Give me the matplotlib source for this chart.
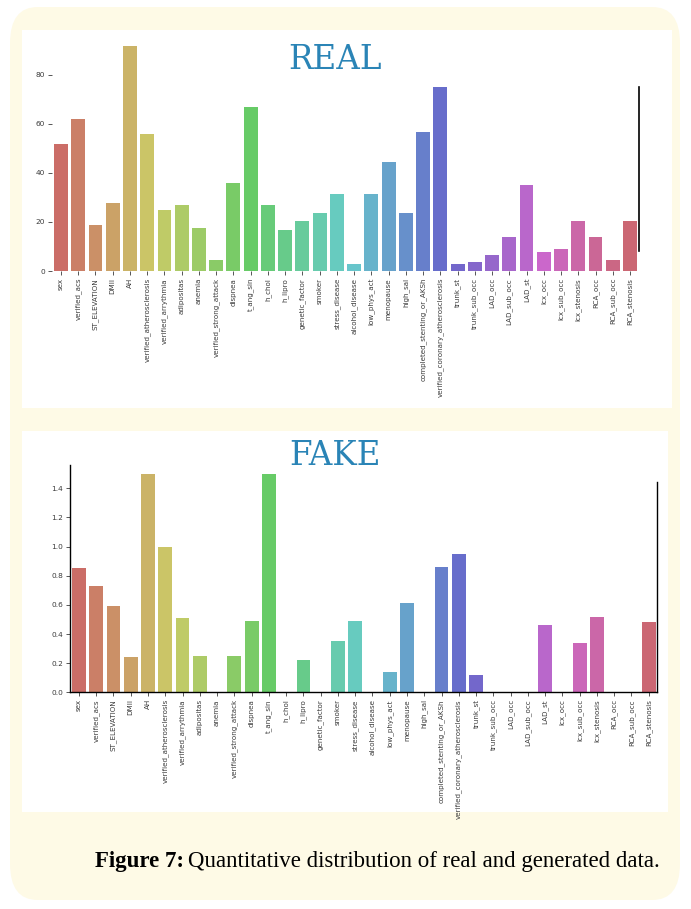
import numpy as np
import matplotlib
matplotlib.use("Agg")
import matplotlib.pyplot as plt
from matplotlib.patches import FancyBboxPatch, Rectangle
import seaborn as sns

# feature names shown on both panels
FEATURES = [
    "sex", "verified_acs", "ST_ELEVATION", "DMII", "AH",
    "verified_atherosclerosis", "verified_arrythmia", "adipositas", "anemia",
    "verified_strong_attack", "dispnea", "t_ang_sin", "h_chol", "h_lipro",
    "genetic_factor", "smoker", "stress_disease", "alcohol_disease",
    "low_phys_act", "menopause", "high_sal", "completed_stenting_or_AKSh",
    "verified_coronary_atherosclerosis", "trunk_st", "trunk_sub_occ",
    "LAD_occ", "LAD_sub_occ", "LAD_st", "lcx_occ", "lcx_sub_occ",
    "lcx_stenosis", "RCA_occ", "RCA_sub_occ", "RCA_stenosis",
]

REAL_COUNTS = [
    51.7, 61.9, 18.9, 27.8, 91.7, 55.9, 24.8, 26.9, 17.7, 4.6,
    35.8, 66.8, 26.9, 16.9, 20.6, 23.7, 31.6, 3.0, 31.6, 44.5,
    23.6, 56.7, 74.9, 2.9, 3.8, 6.7, 13.9, 35.0, 7.6, 8.9,
    20.6, 13.9, 4.6, 20.6,
]

FAKE_COUNTS = [
    0.85, 0.73, 0.59, 0.24, 1.50, 1.00, 0.51, 0.25, 0.0, 0.25,
    0.49, 1.50, 0.0, 0.22, 0.005, 0.35, 0.49, 0.0, 0.14, 0.61,
    0.0, 0.86, 0.95, 0.12, 0.0, 0.0, 0.0, 0.46, 0.0, 0.34,
    0.52, 0.0, 0.0, 0.48,
]

REAL_TICKS = [0, 20, 40, 60, 80]
FAKE_TICKS = [0.0, 0.2, 0.4, 0.6, 0.8, 1.0, 1.2, 1.4]

W, H = 691, 909
CREAM = "#fefae6"
TITLE_BLUE = "#2a84b6"

fig = plt.figure(figsize=(W / 100, H / 100), dpi=100)
fig.patch.set_facecolor("white")


def px(x, y, w, h):
    # pixel box (top-left origin) -> figure fraction
    return [x / W, 1 - (y + h) / H, w / W, h / H]


# rounded cream card behind everything
card = FancyBboxPatch((10 / W, 1 - 900 / H), 670 / W, 893 / H,
                      boxstyle="round,pad=0,rounding_size=0.04",
                      transform=fig.transFigure, facecolor=CREAM,
                      edgecolor="none", zorder=-2)
fig.patches.append(card)

# white panels
for (x, y, w, h) in [(22, 30, 650, 378), (22, 431, 646, 381)]:
    fig.patches.append(Rectangle((x / W, 1 - (y + h) / H), w / W, h / H,
                                 transform=fig.transFigure, facecolor="white",
                                 edgecolor="none", zorder=-1))

colors = sns.color_palette("hls", len(FEATURES))
colors = [sns.desaturate(c, 0.75) for c in colors]
xpos = np.arange(len(FEATURES))


def draw_panel(ax, values, ticks, ymax, fmt):
    ax.bar(xpos, values, width=0.8, color=colors, zorder=2)
    ax.set_xlim(-0.5, len(FEATURES) - 0.5)
    ax.set_ylim(0, ymax)
    ax.set_xticks(xpos)
    ax.set_xticklabels(FEATURES, rotation=90, fontsize=5.1, color="#3a3a3a")
    ax.set_yticks(ticks)
    ax.set_yticklabels([fmt.format(t) for t in ticks], fontsize=5.3,
                       color="#3a3a3a")
    ax.tick_params(length=3, width=0.6, pad=2, colors="#3a3a3a")
    ax.patch.set_alpha(0)
    ax.spines["top"].set_visible(False)


# REAL panel
ax1 = fig.add_axes(px(52.3, 46, 586.4, 225))
draw_panel(ax1, REAL_COUNTS, REAL_TICKS, 91.8, "{:d}")
ax1.spines["left"].set_visible(False)
ax1.spines["bottom"].set_visible(False)
ax1.spines["right"].set_bounds(8, 75)
ax1.spines["right"].set_linewidth(1.2)

# FAKE panel
ax2 = fig.add_axes(px(70.3, 465, 587.1, 227.3))
draw_panel(ax2, FAKE_COUNTS, FAKE_TICKS, 1.56, "{:.1f}")
for side in ["left", "bottom", "right"]:
    ax2.spines[side].set_linewidth(1.0)
ax2.spines["right"].set_bounds(0, 1.44)

fig.text(335 / W, 1 - 60 / H, "REAL", ha="center", va="center",
         family="DejaVu Serif", fontsize=23.5, color=TITLE_BLUE)
fig.text(335 / W, 1 - 456 / H, "FAKE", ha="center", va="center",
         family="DejaVu Serif", fontsize=23.5, color=TITLE_BLUE)

# caption
cap_y = 1 - 862 / H
t1 = fig.text(95 / W, cap_y, "Figure 7:", ha="left", va="center",
              family="Liberation Serif", fontweight="bold", fontsize=16.5)
fig.canvas.draw()
bb = t1.get_window_extent()
fig.text((bb.x1 + 4) / W, cap_y,
         "Quantitative distribution of real and generated data.",
         ha="left", va="center", family="Liberation Serif", fontsize=16.5)

fig.savefig("out.png", dpi=100, facecolor=fig.get_facecolor())
